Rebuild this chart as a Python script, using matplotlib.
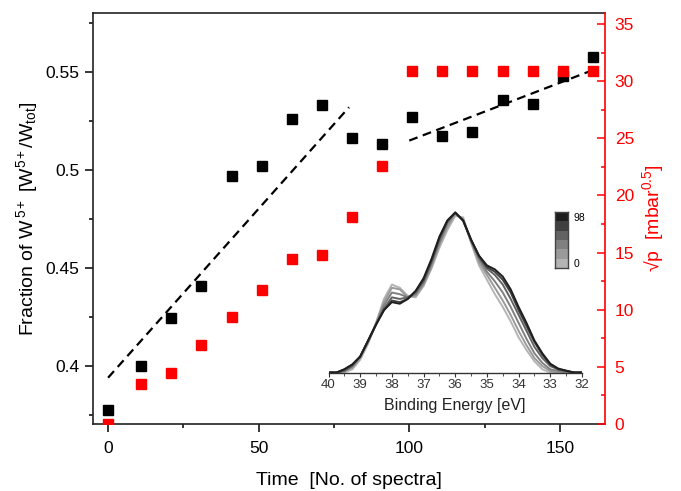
import numpy as np
import matplotlib
matplotlib.use("Agg")
import matplotlib.pyplot as plt
from matplotlib.ticker import AutoMinorLocator, MultipleLocator, FormatStrFormatter
from matplotlib.colors import ListedColormap

plt.rcParams['font.family'] = ['Liberation Sans', 'DejaVu Sans']
plt.rcParams['mathtext.fontset'] = 'custom'
plt.rcParams['mathtext.rm'] = 'Liberation Sans'
plt.rcParams['mathtext.it'] = 'Liberation Sans:italic'
plt.rcParams['mathtext.default'] = 'regular'

# --- main data: fraction of W5+ (left axis) and sqrt(p) (right axis) vs. spectrum number
time = [0, 11, 21, 31, 41, 51, 61, 71, 81, 91, 101, 111, 121, 131, 141, 151, 161]
w5_fraction = [0.3776, 0.400, 0.4245, 0.4408, 0.4969, 0.502, 0.526, 0.533, 0.5163,
               0.5133, 0.5272, 0.5173, 0.5195, 0.5357, 0.5337, 0.548, 0.5578]
sqrt_p = [0.0, 3.5, 4.5, 6.9, 9.4, 11.7, 14.4, 14.8, 18.1, 22.6,
          30.9, 30.9, 30.9, 30.9, 30.9, 30.9, 30.9]

# linear guides
fit1_x = [0, 80]
fit1_y = [0.394, 0.532]
fit2_x = [100, 161]
fit2_y = [0.515, 0.551]

# --- inset: normalised spectra
energy = np.arange(40.0, 31.99, -0.25)
spectrum_ids = [0, 20, 39, 59, 78, 98]
spec_0 = [0.00, 0.00, 0.00, 0.02, 0.08, 0.18, 0.31, 0.46, 0.55, 0.53, 0.48, 0.47, 0.54, 0.65, 0.78, 0.89, 0.98,
          0.97, 0.81, 0.67, 0.58, 0.49, 0.41, 0.32, 0.22, 0.14, 0.07, 0.02, 0.00, 0.00, 0.00, 0.00, 0.00]
spec_20 = [0.00, 0.00, 0.01, 0.03, 0.09, 0.19, 0.31, 0.44, 0.53, 0.52, 0.47, 0.48, 0.55, 0.66, 0.80, 0.91, 0.99,
           0.96, 0.82, 0.69, 0.61, 0.53, 0.45, 0.36, 0.26, 0.17, 0.09, 0.04, 0.01, 0.00, 0.00, 0.00, 0.00]
spec_39 = [0.00, 0.00, 0.01, 0.04, 0.10, 0.19, 0.30, 0.42, 0.50, 0.49, 0.47, 0.49, 0.56, 0.68, 0.81, 0.93, 1.00,
           0.95, 0.82, 0.71, 0.63, 0.57, 0.50, 0.41, 0.31, 0.21, 0.12, 0.06, 0.02, 0.01, 0.00, 0.00, 0.00]
spec_59 = [0.00, 0.00, 0.01, 0.04, 0.10, 0.20, 0.30, 0.40, 0.47, 0.46, 0.47, 0.50, 0.57, 0.69, 0.83, 0.94, 1.00,
           0.95, 0.83, 0.72, 0.65, 0.61, 0.55, 0.46, 0.36, 0.26, 0.16, 0.09, 0.04, 0.02, 0.01, 0.00, 0.00]
spec_78 = [0.00, 0.00, 0.02, 0.05, 0.10, 0.20, 0.30, 0.39, 0.45, 0.44, 0.46, 0.51, 0.58, 0.70, 0.84, 0.95, 1.00,
           0.95, 0.83, 0.73, 0.66, 0.63, 0.58, 0.50, 0.39, 0.29, 0.19, 0.11, 0.05, 0.02, 0.01, 0.00, 0.00]
spec_98 = [0.00, 0.00, 0.02, 0.05, 0.10, 0.20, 0.30, 0.39, 0.44, 0.43, 0.46, 0.51, 0.59, 0.71, 0.85, 0.95, 1.00,
           0.95, 0.83, 0.73, 0.67, 0.645, 0.60, 0.52, 0.41, 0.31, 0.20, 0.12, 0.055, 0.025, 0.012, 0.00, 0.00]
spectra = [spec_0, spec_20, spec_39, spec_59, spec_78, spec_98]
grays = ['#b4b4b4', '#9a9a9a', '#808080', '#626262', '#404040', '#1e1e1e']

fig = plt.figure(figsize=(6.81, 4.91), dpi=100)
ax = fig.add_axes([0.1366, 0.1365, 0.7518, 0.837])

ax.plot(time, w5_fraction, 's', color='black', ms=7.5, zorder=3)
ax.plot(fit1_x, fit1_y, color='black', lw=1.6, linestyle=(0, (4, 2.5)))
ax.plot(fit2_x, fit2_y, color='black', lw=1.6, linestyle=(0, (4, 2.5)))

ax.set_xlim(-5, 165)
ax.set_ylim(0.3704, 0.5801)
ax.xaxis.set_major_locator(MultipleLocator(50))
ax.xaxis.set_minor_locator(AutoMinorLocator(2))
ax.yaxis.set_major_locator(MultipleLocator(0.05))
ax.yaxis.set_minor_locator(AutoMinorLocator(2))
ax.yaxis.set_major_formatter(FormatStrFormatter('%g'))
ax.tick_params(which='both', direction='out', top=False, right=False, labelsize=12.5, width=1.1)
ax.tick_params(which='major', length=6, pad=4)
ax.tick_params(axis='x', which='major', pad=6)
ax.tick_params(which='minor', length=3)
ax.spines['right'].set_visible(False)
for s in ['left', 'top', 'bottom']:
    ax.spines[s].set_linewidth(1.2)
    ax.spines[s].set_color('#222222')
ax.set_xlabel('Time  [No. of spectra]', fontsize=14, labelpad=12)
ax.set_ylabel(r'Fraction of W$^{\,5+}$ [W$^{5+}$/W$_{tot}$]', fontsize=14, labelpad=4)

ax2 = ax.twinx()
ax2.plot(time, sqrt_p, 's', color='red', ms=7.5, zorder=3)
ax2.set_ylim(0, 35.96)
ax2.yaxis.set_major_locator(MultipleLocator(5))
ax2.yaxis.set_minor_locator(AutoMinorLocator(2))
ax2.tick_params(which='both', direction='in', colors='red', labelsize=12.5, width=1.1)
ax2.tick_params(which='major', length=6, pad=7)
ax2.tick_params(which='minor', length=3)
ax2.spines['right'].set_color('red')
ax2.spines['right'].set_linewidth(1.2)
ax2.spines['left'].set_visible(False)
ax2.spines['top'].set_visible(False)
ax2.spines['bottom'].set_visible(False)
ax2.set_ylabel(r'√p  [mbar$^{0.5}$]', color='red', fontsize=14, labelpad=4)

# inset with spectra
axi = fig.add_axes([0.4824, 0.2413, 0.3722, 0.342])
axi.patch.set_alpha(0)
for spec, col in zip(spectra, grays):
    axi.plot(energy, spec, color=col, lw=1.4)
axi.set_xlim(40, 32)
axi.set_ylim(0, 1.05)
axi.set_yticks([])
for s in ['left', 'right', 'top']:
    axi.spines[s].set_visible(False)
axi.spines['bottom'].set_color('#333333')
axi.spines['bottom'].set_linewidth(1.0)
axi.xaxis.set_major_locator(MultipleLocator(1))
axi.xaxis.set_minor_locator(AutoMinorLocator(2))
axi.tick_params(which='both', direction='out', labelsize=9.5, colors='#333333', pad=2)
axi.tick_params(which='major', length=3)
axi.tick_params(which='minor', length=2)
axi.set_xlabel('Binding Energy [eV]', fontsize=11.5, labelpad=5, color='#222222')

# small colour key for the spectra
axc = fig.add_axes([0.815, 0.454, 0.019, 0.114])
axc.imshow(np.arange(len(grays)).reshape(-1, 1), cmap=ListedColormap(grays),
           origin='lower', aspect='auto')
axc.set_xticks([])
axc.yaxis.tick_right()
axc.set_yticks([0, len(grays) - 1])
axc.set_yticklabels([str(spectrum_ids[0]), str(spectrum_ids[-1])])
axc.tick_params(length=0, labelsize=7.5, pad=4)
for s in axc.spines.values():
    s.set_color('#444444')
    s.set_linewidth(1.0)

fig.savefig('out.png', dpi=100)
